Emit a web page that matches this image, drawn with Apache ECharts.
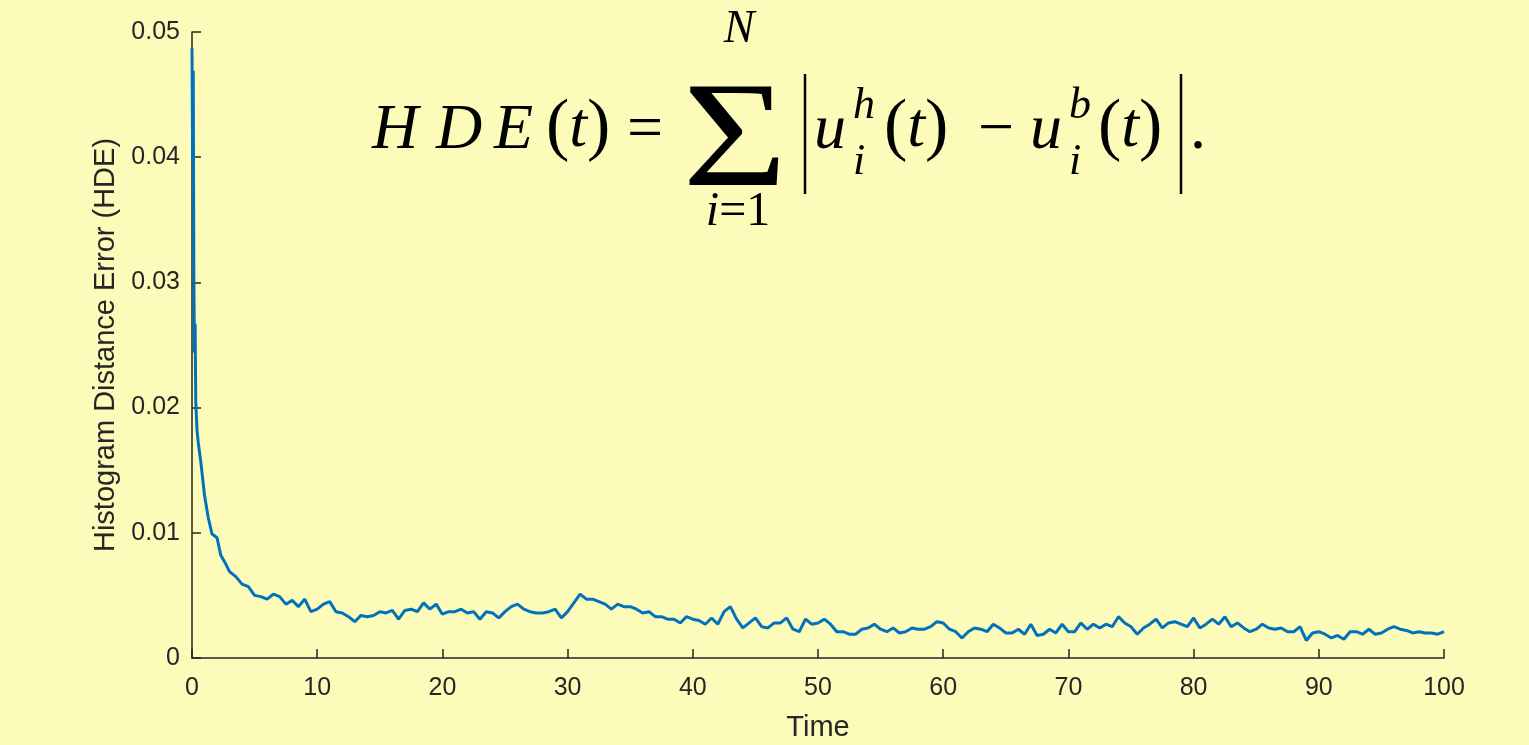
<!DOCTYPE html>
<html>
<head>
<meta charset="utf-8">
<script src="https://cdn.jsdelivr.net/npm/echarts@6/dist/echarts.min.js"></script>
<style>
  html, body { margin: 0; padding: 0; background: #fdfbb9; }
  #chart { width: 1529px; height: 745px; }
</style>
</head>
<body>
<div id="chart"></div>
<script>
// time axis (non uniform at the very start where the curve drops)
var times = [0, 0.05, 0.1, 0.15, 0.2, 0.25, 0.3, 0.4, 0.5, 0.7, 1.0, 1.3, 1.6, 2.0, 2.3, 2.7, 3.0, 3.5, 4.0, 4.5,
  5, 5.5, 6, 6.5, 7, 7.5, 8, 8.5, 9, 9.5, 10, 10.5, 11, 11.5, 12, 12.5, 13, 13.5, 14, 14.5,
  15, 15.5, 16, 16.5, 17, 17.5, 18, 18.5, 19, 19.5, 20, 20.5, 21, 21.5, 22, 22.5, 23, 23.5, 24, 24.5,
  25, 25.5, 26, 26.5, 27, 27.5, 28, 28.5, 29, 29.5, 30, 30.5, 31, 31.5, 32, 32.5, 33, 33.5, 34, 34.5,
  35, 35.5, 36, 36.5, 37, 37.5, 38, 38.5, 39, 39.5, 40, 40.5, 41, 41.5, 42, 42.5, 43, 43.5, 44, 44.5,
  45, 45.5, 46, 46.5, 47, 47.5, 48, 48.5, 49, 49.5, 50, 50.5, 51, 51.5, 52, 52.5, 53, 53.5, 54, 54.5,
  55, 55.5, 56, 56.5, 57, 57.5, 58, 58.5, 59, 59.5, 60, 60.5, 61, 61.5, 62, 62.5, 63, 63.5, 64, 64.5,
  65, 65.5, 66, 66.5, 67, 67.5, 68, 68.5, 69, 69.5, 70, 70.5, 71, 71.5, 72, 72.5, 73, 73.5, 74, 74.5,
  75, 75.5, 76, 76.5, 77, 77.5, 78, 78.5, 79, 79.5, 80, 80.5, 81, 81.5, 82, 82.5, 83, 83.5, 84, 84.5,
  85, 85.5, 86, 86.5, 87, 87.5, 88, 88.5, 89, 89.5, 90, 90.5, 91, 91.5, 92, 92.5, 93, 93.5, 94, 94.5,
  95, 95.5, 96, 96.5, 97, 97.5, 98, 98.5, 99, 99.5, 100];

// histogram distance error
var hde = [0.0487, 0.0397, 0.0469, 0.0300, 0.0244, 0.0267, 0.0205, 0.0182, 0.0172, 0.0157, 0.0130, 0.0112, 0.0099, 0.0096, 0.0082, 0.0075, 0.0069, 0.0065, 0.0059, 0.0057,
  0.0050, 0.0049, 0.0047, 0.0051, 0.0049, 0.0043, 0.0046, 0.0041, 0.0047, 0.0037, 0.0039, 0.0043, 0.0045, 0.0037, 0.0036, 0.0033, 0.0029, 0.0034, 0.0033, 0.0034,
  0.0037, 0.0036, 0.0038, 0.0031, 0.0038, 0.0039, 0.0037, 0.0044, 0.0039, 0.0043, 0.0035, 0.0037, 0.0037, 0.0039, 0.0036, 0.0037, 0.0031, 0.0037, 0.0036, 0.0032,
  0.0037, 0.0041, 0.0043, 0.0039, 0.0037, 0.0036, 0.0036, 0.0037, 0.0039, 0.0032, 0.0037, 0.0044, 0.0051, 0.0047, 0.0047, 0.0045, 0.0043, 0.0039, 0.0043, 0.0041,
  0.0041, 0.0039, 0.0036, 0.0037, 0.0033, 0.0033, 0.0031, 0.0031, 0.0028, 0.0033, 0.0031, 0.0030, 0.0027, 0.0032, 0.0027, 0.0037, 0.0041, 0.0031, 0.0024, 0.0028,
  0.0032, 0.0025, 0.0024, 0.0028, 0.0028, 0.0032, 0.0023, 0.0021, 0.0031, 0.0027, 0.0028, 0.0031, 0.0027, 0.0021, 0.0021, 0.0019, 0.0019, 0.0023, 0.0024, 0.0027,
  0.0023, 0.0021, 0.0024, 0.0020, 0.0021, 0.0024, 0.0023, 0.0023, 0.0025, 0.0029, 0.0028, 0.0023, 0.0021, 0.0016, 0.0021, 0.0024, 0.0023, 0.0021, 0.0027, 0.0024,
  0.0020, 0.0020, 0.0023, 0.0019, 0.0027, 0.0018, 0.0019, 0.0023, 0.0020, 0.0027, 0.0021, 0.0021, 0.0028, 0.0023, 0.0027, 0.0024, 0.0027, 0.0025, 0.0033, 0.0028,
  0.0025, 0.0019, 0.0024, 0.0027, 0.0031, 0.0024, 0.0028, 0.0029, 0.0027, 0.0025, 0.0032, 0.0024, 0.0027, 0.0031, 0.0027, 0.0033, 0.0025, 0.0028, 0.0024, 0.0021,
  0.0023, 0.0027, 0.0024, 0.0023, 0.0024, 0.0021, 0.0021, 0.0025, 0.0014, 0.0020, 0.0021, 0.0019, 0.0016, 0.0018, 0.0015, 0.0021, 0.0021, 0.0019, 0.0023, 0.0019,
  0.0020, 0.0023, 0.0025, 0.0023, 0.0022, 0.0020, 0.0021, 0.0020, 0.0020, 0.0019, 0.0021];

var xTicks = [0, 10, 20, 30, 40, 50, 60, 70, 80, 90, 100];
var yTicks = [0, 0.01, 0.02, 0.03, 0.04, 0.05];

var chart = echarts.init(document.getElementById('chart'));

var axisColor = '#262626';
var sans = '"Liberation Sans", Arial, sans-serif';
var serif = '"Liberation Serif", "DejaVu Serif", serif';
var baseY = 131; // middle line of the formula

// one piece of the formula
function txt(s, x, y, size, italic, align) {
  return {
    type: 'text', silent: true,
    style: {
      text: s, x: x, y: y,
      fontFamily: serif, fontSize: size,
      fontStyle: italic ? 'italic' : 'normal',
      fill: '#000',
      textAlign: align || 'left', textVerticalAlign: 'middle'
    }
  };
}
// "(t)" with an italic t
function paren(x, y) {
  return {
    type: 'text', silent: true,
    style: {
      text: '{n|(}{i|t}{n|)}', x: x, y: y,
      textAlign: 'left', textVerticalAlign: 'middle',
      rich: {
        n: { fontFamily: serif, fontSize: 70, fill: '#000' },
        i: { fontFamily: serif, fontSize: 64, fontStyle: 'italic', fill: '#000' }
      }
    }
  };
}
function bar(x) {
  return { type: 'line', silent: true, shape: { x1: x, y1: 74, x2: x, y2: 194 }, style: { stroke: '#000', lineWidth: 2.5 } };
}

var formula = [
  txt('H', 372, baseY, 64, true),
  txt('D', 436, baseY, 64, true),
  txt('E', 494, baseY, 64, true),
  paren(546, baseY - 2),
  txt('=', 645, baseY, 64, false, 'center'),
  {
    type: 'text', silent: true, x: 735, y: 146, scaleX: 1.2,
    style: { text: '\u03A3', x: 0, y: 0, fontFamily: serif, fontSize: 150, fill: '#000', textAlign: 'center', textVerticalAlign: 'middle' }
  },
  txt('N', 739, 30, 46, true, 'center'),
  {
    type: 'text', silent: true,
    style: {
      text: '{i|i}{n|=1}', x: 738, y: 212, textAlign: 'center', textVerticalAlign: 'middle',
      rich: {
        i: { fontFamily: serif, fontSize: 48, fontStyle: 'italic', fill: '#000' },
        n: { fontFamily: serif, fontSize: 48, fill: '#000' }
      }
    }
  },
  bar(805),
  txt('u', 814, baseY, 64, true),
  txt('h', 853, 106, 44, true),
  txt('i', 853, 162, 44, true),
  paren(884, baseY - 2),
  txt('\u2212', 996, baseY, 64, false, 'center'),
  txt('u', 1030, baseY, 64, true),
  txt('b', 1069, 106, 44, true),
  txt('i', 1069, 162, 44, true),
  paren(1098, baseY - 2),
  bar(1181),
  txt('.', 1190, baseY, 64, false)
];

chart.setOption({
  backgroundColor: '#fdfbb9',
  animation: false,
  grid: { left: 192, right: 85, top: 32, bottom: 87, outerBoundsMode: 'none' },
  xAxis: {
    type: 'value', min: xTicks[0], max: xTicks[xTicks.length - 1], interval: 10,
    name: 'Time', nameLocation: 'middle', nameGap: 55,
    nameTextStyle: { fontFamily: sans, fontSize: 29, color: axisColor },
    axisLine: { lineStyle: { color: axisColor, width: 1.5 } },
    axisTick: { inside: true, length: 9, lineStyle: { color: axisColor, width: 1.5 } },
    axisLabel: { fontFamily: sans, fontSize: 25, color: axisColor, margin: 18 },
    splitLine: { show: false }
  },
  yAxis: {
    type: 'value', min: yTicks[0], max: yTicks[yTicks.length - 1], interval: 0.01,
    name: 'Histogram Distance Error (HDE)', nameLocation: 'middle', nameGap: 70, nameRotate: 90,
    nameTextStyle: { fontFamily: sans, fontSize: 29, color: axisColor },
    axisLine: { show: true, lineStyle: { color: axisColor, width: 1.5 } },
    axisTick: { show: true, inside: true, length: 9, lineStyle: { color: axisColor, width: 1.5 } },
    axisLabel: { fontFamily: sans, fontSize: 25, color: axisColor, margin: 12 },
    splitLine: { show: false }
  },
  series: [{
    type: 'line',
    data: times.map(function (t, i) { return [t, hde[i]]; }),
    showSymbol: false,
    lineStyle: { color: '#0072bd', width: 3 },
    itemStyle: { color: '#0072bd' }
  }],
  graphic: formula
});
</script>
</body>
</html>
